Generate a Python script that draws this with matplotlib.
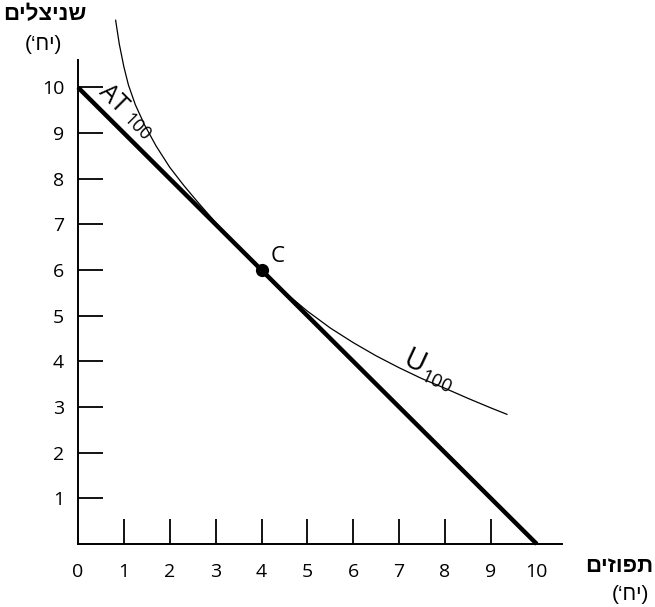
import matplotlib
matplotlib.use("Agg")
import matplotlib.pyplot as plt

plt.rcParams['font.family'] = ['Open Sans', 'DejaVu Sans']

# budget line AT100 (oranges, schnitzels)
budget_x = [0, 10]
budget_y = [10, 0]

# indifference curve U100
curve_x = [0.82, 0.90, 1.00, 1.10, 1.25, 1.45, 1.70, 2.00, 2.30, 2.60, 3.00, 3.50,
           4.00, 4.50, 5.00, 5.50, 6.00, 6.50, 7.00, 7.50, 8.00, 8.50, 9.00, 9.35]
curve_y = [11.47, 10.95, 10.45, 10.05, 9.62, 9.18, 8.72, 8.25, 7.86, 7.50, 7.04, 6.51,
           6.00, 5.52, 5.10, 4.73, 4.41, 4.12, 3.86, 3.62, 3.41, 3.19, 2.98, 2.84]

point_c = (4, 6)

x_ticks = list(range(1, 10))
y_ticks = list(range(1, 11))
x_labels = list(range(0, 11))
y_labels = list(range(1, 11))

y_title = "שניצלים"
x_title = "תפוזים"
unit = "(יח‘)"


def visual(s):
    # matplotlib has no bidi: reverse to visual order and mirror the brackets
    s = s[::-1]
    return s.translate(str.maketrans("()", ")("))


fig = plt.figure(figsize=(6.55, 6.07), dpi=100)
ax = fig.add_axes([78 / 655, 63 / 607, 484 / 655, 484 / 607])
ax.set_xlim(0, 10.55)
ax.set_ylim(0, 10.6)

for s in ['top', 'right']:
    ax.spines[s].set_visible(False)
for s in ['left', 'bottom']:
    ax.spines[s].set_linewidth(1.4)
    ax.spines[s].set_color('black')

ax.set_xticks(x_ticks)
ax.set_xticklabels([])
ax.set_yticks(y_ticks)
ax.set_yticklabels([str(v) for v in y_labels], fontsize=14)
ax.tick_params(axis='both', direction='in', length=18, width=1.3, color='black')
ax.tick_params(axis='y', pad=10)

for v in x_labels:
    ax.annotate(str(v), xy=(v, 0), xycoords='data', xytext=(0, -20),
                textcoords='offset points', ha='center', va='center', fontsize=14)

ax.plot(curve_x, curve_y, color='black', lw=0.9, clip_on=False, zorder=2)
ax.plot(budget_x, budget_y, color='black', lw=3.2, solid_capstyle='butt',
        clip_on=False, zorder=3)
ax.plot([point_c[0]], [point_c[1]], 'o', color='black', ms=8.5, zorder=4)

ax.text(4.36, 6.30, "C", fontsize=16, ha='center', va='center')

# AT100 along the budget line
ax.text(0.76, 9.74, "AT", fontsize=18, rotation=-45,
        ha='center', va='center', rotation_mode='anchor')
ax.text(1.29, 9.13, "100", fontsize=13, rotation=-45,
        ha='center', va='center', rotation_mode='anchor')

# U100 along the indifference curve
ax.text(7.32, 3.97, "U", fontsize=21, rotation=-25,
        ha='center', va='center', rotation_mode='anchor')
ax.text(7.80, 3.55, "100", fontsize=13.5, rotation=-25,
        ha='center', va='center', rotation_mode='anchor')

heb = ['Liberation Sans', 'DejaVu Sans']
fig.text(45 / 655, 1 - 15 / 607, visual(y_title), fontsize=16, fontweight='bold',
         family=heb, ha='center', va='center')
fig.text(43 / 655, 1 - 45 / 607, visual(unit), fontsize=15, family=heb,
         ha='center', va='center')
fig.text(619 / 655, 1 - 566 / 607, visual(x_title), fontsize=16, fontweight='bold',
         family=heb, ha='center', va='center')
fig.text(630 / 655, 1 - 594 / 607, visual(unit), fontsize=15, family=heb,
         ha='center', va='center')

fig.savefig("out.png", dpi=100)
